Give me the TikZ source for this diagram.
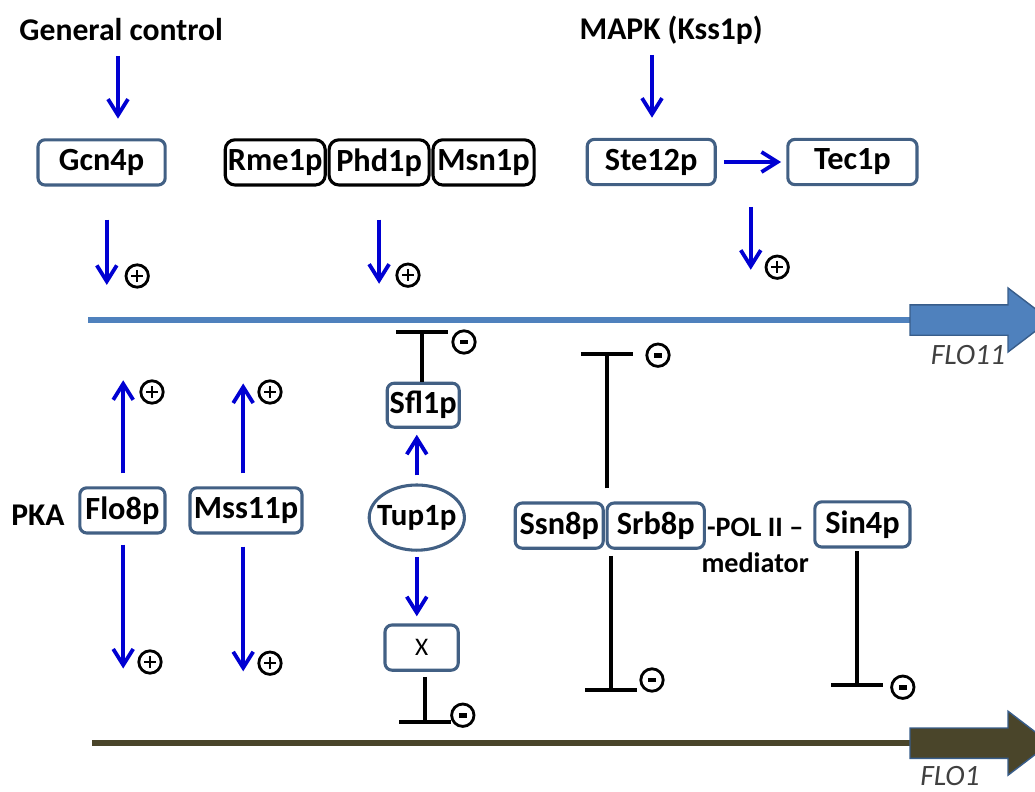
\documentclass[tikz,border=0pt]{standalone}
\usepackage{fontspec}
\setmainfont{Carlito}
\usetikzlibrary{arrows.meta, positioning, shapes.geometric}

\definecolor{actblue}{RGB}{0,0,210}
\definecolor{boxline}{RGB}{66,96,132}
\definecolor{flohi}{RGB}{79,129,189}
\definecolor{flohiedge}{RGB}{56,93,138}
\definecolor{flolo}{RGB}{74,69,42}

\begin{document}
\begin{tikzpicture}[
    act/.style={-{Straight Barb[length=4mm, width=5mm]}, line width=2.7pt, actblue},
    inh/.style={-{Bar[width=13mm]}, line width=2.7pt},
    prot/.style={rectangle, rounded corners=5pt, draw=boxline, line width=2.2pt, minimum height=1.13cm, inner sep=0pt, font=\fontsize{23}{27}\selectfont\bfseries},
    blk/.style={prot, draw=black, rounded corners=7pt},
    lbl/.style={inner sep=0pt, font=\fontsize{22.5}{27}\selectfont\bfseries},
    small/.style={inner sep=0pt, font=\fontsize{20}{24}\selectfont\bfseries},
    gene/.style={inner sep=0pt, font=\fontsize{21}{25}\selectfont\itshape, text=black!75},
    sign/.style={circle, draw, line width=2pt, minimum size=5.6mm, inner sep=0pt},
    plusmark/.style={sign, path picture={\draw[line width=1.4pt] (path picture bounding box.center) +(-1.5mm,0) -- +(1.5mm,0) (path picture bounding box.center) +(0,-1.5mm) -- +(0,1.5mm);}},
    minusmark/.style={sign, path picture={\fill (path picture bounding box.center) +(-1mm,-0.6mm) rectangle +(1mm,0.6mm);}},
]
\useasboundingbox (0,0) rectangle (25.875,-19.775);

% Genes
\coordinate (f11) at (2.2,-8.0);
\coordinate (f11end) at (22.75,-8.0);
\draw[flohi, line width=4.5pt] (f11) -- (f11end);
\filldraw[fill=flohi, draw=flohiedge, line width=1pt] (f11end) ++(0,0.38) -- ++(2.45,0) -- ++(0,0.42) -- ++(1.05,-0.8) -- ++(-1.05,-0.8) -- ++(0,0.42) -- ++(-2.45,0) -- cycle;
\node[gene] (l11) at (24.2,-8.88) {FLO11};

\coordinate (f1) at (2.3,-18.58);
\coordinate (f1end) at (22.75,-18.58);
\draw[flolo, line width=4.5pt] (f1) -- (f1end);
\filldraw[fill=flolo, draw=flohiedge, line width=1pt] (f1end) ++(0,0.38) -- ++(2.45,0) -- ++(0,0.42) -- ++(1.05,-0.8) -- ++(-1.05,-0.8) -- ++(0,0.42) -- ++(-2.45,0) -- cycle;
\node[gene] (l1) at (23.75,-19.4) {FLO1};

% Upper activators
\node[lbl] (gen) at (3.03,-0.75) {General control};
\node[lbl] (mapk) at (16.78,-0.75) {MAPK (Kss1p)};

\node[prot, minimum width=3.18cm] (gcn) at (2.54,-4.06) {Gcn4p};
\node[blk, minimum width=2.5cm] (rme) at (6.88,-4.06) {Rme1p};
\node[blk, minimum width=2.5cm, right=0.02cm of rme] (phd) {Phd1p};
\node[blk, minimum width=2.53cm, right=0.02cm of phd] (msn) {Msn1p};
\node[prot, minimum width=3.2cm] (ste) at (16.28,-4.05) {Ste12p};
\node[prot, minimum width=3.23cm] (tec) at (21.31,-4.05) {Tec1p};

\draw[act] (gen.south) ++(-0.08,-0.36) -- ++(0,-1.57);
\draw[act] (mapk.south) ++(-0.48,-0.26) -- ++(0,-1.57);
\draw[act, shorten <=0.18cm, shorten >=0.13cm] (ste) -- (tec);

\draw[act] (gcn.south) ++(0.13,-0.83) -- ++(0,-1.63);
\node[plusmark] (p1) at (3.43,-6.9) {};
\draw[act] (phd.south) ++(0,-0.83) -- ++(0,-1.6);
\node[plusmark] (p2) at (10.2,-6.88) {};
\draw[act] (ste.south east) ++(0.85,-0.52) -- ++(0,-1.57);
\node[plusmark] (p3) at (19.43,-6.68) {};

% PKA branch
\node[lbl] (pka) at (0.95,-12.88) {PKA};
\node[prot, minimum width=2.13cm] (flo8) at (3.06,-12.76) {Flo8p};
\node[prot, minimum width=2.8cm] (mss) at (6.15,-12.76) {Mss11p};

\draw[act] (flo8.north) ++(0.02,0.32) -- ++(0,2.33);
\node[plusmark] (p4) at (3.8,-9.8) {};
\draw[act] (flo8.south) ++(0.02,-0.25) -- ++(0,-3.1);
\node[plusmark] (p5) at (3.75,-16.55) {};
\draw[act] (mss.north) ++(-0.07,0.32) -- ++(0,2.25);
\node[plusmark] (p6) at (6.75,-9.8) {};
\draw[act] (mss.south) ++(-0.07,-0.3) -- ++(0,-3.12);
\node[plusmark] (p7) at (6.75,-16.58) {};

% Tup1p branch
\node[prot, minimum width=1.8cm, minimum height=1.1cm] (sfl) at (10.58,-10.13) {Sfl1p};
\node[ellipse, draw=boxline, line width=2.2pt, minimum width=2.38cm, minimum height=1.63cm, inner sep=0pt, font=\fontsize{22}{26}\selectfont\bfseries] (tup) at (10.42,-12.94) {\makebox[1.4cm]{Tup1p}};
\node[prot, minimum width=1.83cm, font=\fontsize{18}{21}\selectfont] (xb) at (10.54,-16.19) {X};

\draw[act, shorten <=0.2cm, shorten >=0.15cm] (tup.north) -- (tup.north |- sfl.south);
\draw[act, shorten <=0.13cm, shorten >=0.18cm] (tup.south) -- (tup.south |- xb.north);
\draw[inh] (sfl.north) ++(-0.03,0) -- ++(0,1.28);
\node[minusmark] (m1) at (11.6,-8.55) {};
\draw[inh] (xb.south) ++(0.08,-0.13) -- ++(0,-1.18);
\node[minusmark] (m2) at (11.57,-17.88) {};

% Mediator
\node[prot, minimum width=2.2cm] (ssn) at (13.98,-13.14) {Ssn8p};
\node[prot, minimum width=2.43cm, right=0.02cm of ssn] (srb) {Srb8p};
\node[small] (pol) at (18.88,-13.18) {-POL II --};
\node[small] (med) at (18.88,-14.08) {mediator};
\node[prot, minimum width=2.38cm] (sin) at (21.56,-13.11) {Sin4p};

\draw[inh] (srb.north west) ++(0.03,0.33) -- ++(0,3.4);
\node[minusmark] (m3) at (16.45,-8.88) {};
\draw[inh] (srb.south west) ++(0.13,-0.15) -- ++(0,-3.4);
\node[minusmark] (m4) at (16.3,-17.0) {};
\draw[inh] (sin.south) ++(-0.14,-0.07) -- ++(0,-3.38);
\node[minusmark] (m5) at (22.57,-17.18) {};

\end{tikzpicture}
\end{document}
